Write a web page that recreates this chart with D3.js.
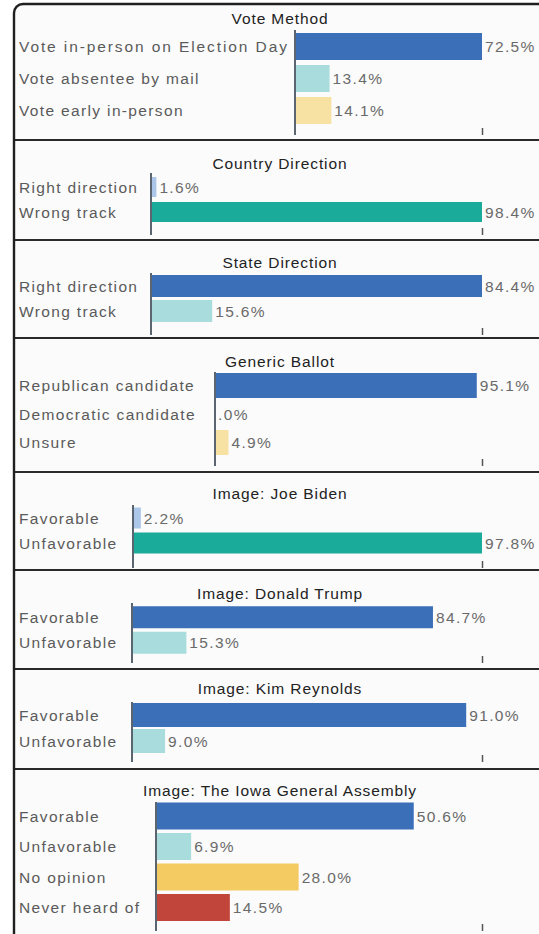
<!DOCTYPE html>
<html>
<head>
<meta charset="utf-8">
<script src="https://cdn.jsdelivr.net/npm/d3@7"></script>
<style>
  html, body { margin: 0; padding: 0; background: #ffffff; }
  svg { display: block; }
  text { font-family: "Liberation Sans", Arial, sans-serif; }
</style>
</head>
<body>
<svg id="chart" width="539" height="934"></svg>
<script>
// ---------- DATA ----------
const titles = [
  "Vote Method",
  "Country Direction",
  "State Direction",
  "Generic Ballot",
  "Image: Joe Biden",
  "Image: Donald Trump",
  "Image: Kim Reynolds",
  "Image: The Iowa General Assembly"
];
const categories = [
  ["Vote in-person on Election Day", "Vote absentee by mail", "Vote early in-person"],
  ["Right direction", "Wrong track"],
  ["Right direction", "Wrong track"],
  ["Republican candidate", "Democratic candidate", "Unsure"],
  ["Favorable", "Unfavorable"],
  ["Favorable", "Unfavorable"],
  ["Favorable", "Unfavorable"],
  ["Favorable", "Unfavorable", "No opinion", "Never heard of"]
];
const values = [
  [72.5, 13.4, 14.1],
  [1.6, 98.4],
  [84.4, 15.6],
  [95.1, 0.0, 4.9],
  [2.2, 97.8],
  [84.7, 15.3],
  [91.0, 9.0],
  [50.6, 6.9, 28.0, 14.5]
];
// upper end of each panel's value axis (where its single tick mark sits)
const axisMax = [72.5, 98.4, 84.4, 97, 97.8, 98.5, 95.3, 64];

// ---------- STYLE / LAYOUT ----------
const C = {
  blue: "#3b70b9", cyan: "#a9dcdc", paleYellow: "#f7e2a4", paleBlue: "#abc6e9",
  teal: "#1aab9a", yellow: "#f3cb62", red: "#c1453b"
};
const colors = [
  [C.blue, C.cyan, C.paleYellow],
  [C.paleBlue, C.teal],
  [C.blue, C.cyan],
  [C.blue, C.cyan, C.paleYellow],
  [C.paleBlue, C.teal],
  [C.blue, C.cyan],
  [C.blue, C.cyan],
  [C.blue, C.cyan, C.yellow, C.red]
];
// panel geometry: top/bottom borders, title y, axis x, band top, band step, bar height, axis span
const layout = [
  {top: 4,   bottom: 140, titleY: 18,  axisX: 295, bandTop: 30.5,  step: 32,   barH: 27, ay0: 30,  ay1: 135},
  {top: 140, bottom: 240, titleY: 163, axisX: 151, bandTop: 174.5, step: 25,   barH: 20, ay0: 173, ay1: 235},
  {top: 240, bottom: 338, titleY: 262, axisX: 151, bandTop: 273.5, step: 25,   barH: 22, ay0: 273, ay1: 335},
  {top: 338, bottom: 472, titleY: 361, axisX: 215, bandTop: 371.25,step: 28.5, barH: 25, ay0: 372, ay1: 466},
  {top: 472, bottom: 570, titleY: 493, axisX: 133, bandTop: 505.5, step: 25,   barH: 21, ay0: 505, ay1: 568},
  {top: 570, bottom: 669, titleY: 593, axisX: 132, bandTop: 604.5, step: 25.5, barH: 22, ay0: 603, ay1: 663},
  {top: 669, bottom: 769, titleY: 688, axisX: 132, bandTop: 702,   step: 26,   barH: 24, ay0: 702, ay1: 762},
  {top: 769, bottom: 940, titleY: 790, axisX: 156, bandTop: 800.75,step: 30.5, barH: 27, ay0: 802, ay1: 931}
];
const tickX = 482;
const leftX = 14;
const rightX = 560;
const labelX = 19;

// value label format as shown on the chart (a zero shows as ".0%")
const fmtValue = v => (v === 0 ? ".0" : v.toFixed(1)) + "%";

const svg = d3.select("#chart");

// panel backgrounds
svg.append("rect")
  .attr("x", leftX).attr("y", 4).attr("width", rightX - leftX).attr("height", 940)
  .attr("rx", 9).attr("ry", 9)
  .attr("fill", "#fbfbfb").attr("stroke", "none");

titles.forEach((title, i) => {
  const L = layout[i];
  const g = svg.append("g");
  const n = categories[i].length;

  const x = d3.scaleLinear().domain([0, axisMax[i]]).range([L.axisX, tickX]);
  const pad = (L.step - L.barH) / L.step;
  const y = d3.scaleBand()
    .domain(categories[i])
    .range([L.bandTop, L.bandTop + n * L.step])
    .paddingInner(pad).paddingOuter(pad / 2);

  // title
  g.append("text")
    .attr("x", 280).attr("y", L.titleY).attr("dy", "0.36em")
    .attr("text-anchor", "middle")
    .attr("font-size", 15.5).attr("letter-spacing", "0.9px")
    .attr("fill", "#222")
    .text(title);

  // category labels
  g.selectAll("text.cat").data(categories[i]).join("text")
    .attr("class", "cat")
    .attr("x", labelX)
    .attr("y", d => y(d) + y.bandwidth() / 2).attr("dy", "0.36em")
    .attr("font-size", 15.5)
    .attr("letter-spacing", d => d.length > 25 ? "1.9px" : "1.35px")
    .attr("fill", "#5a5a5a")
    .text(d => d);

  const rows = categories[i].map((c, j) => ({c, v: values[i][j], col: colors[i][j]}));

  // bars
  g.selectAll("rect.bar").data(rows).join("rect")
    .attr("class", "bar")
    .attr("x", x(0))
    .attr("y", d => y(d.c))
    .attr("width", d => Math.max(0, x(d.v) - x(0)))
    .attr("height", y.bandwidth())
    .attr("fill", d => d.col);

  // value labels
  g.selectAll("text.val").data(rows).join("text")
    .attr("class", "val")
    .attr("x", d => x(d.v) + 3)
    .attr("y", d => y(d.c) + y.bandwidth() / 2).attr("dy", "0.36em")
    .attr("font-size", 15.5).attr("letter-spacing", "1.35px")
    .attr("fill", "#6a6a6a")
    .text(d => fmtValue(d.v));

  // axis: a single tick at the top of the scale, drawn with d3.axisBottom
  const axisG = g.append("g")
    .attr("transform", `translate(0,${L.ay1 - 7})`)
    .call(d3.axisBottom(x).tickValues([axisMax[i]]).tickSize(7).tickFormat(""));
  axisG.select(".domain").remove();
  axisG.selectAll(".tick line").attr("stroke", "#555").attr("stroke-width", 1.5);

  // vertical baseline
  g.append("line")
    .attr("x1", x(0)).attr("x2", x(0))
    .attr("y1", L.ay0).attr("y2", L.ay1)
    .attr("stroke", "#5b6570").attr("stroke-width", 2);

  // separator below panel
  if (i < titles.length - 1) {
    svg.append("line")
      .attr("x1", leftX).attr("x2", rightX)
      .attr("y1", L.bottom).attr("y2", L.bottom)
      .attr("stroke", "#2a2a2a").attr("stroke-width", 2.2);
  }
});

// outer frame (rounded top-left, open to the right/bottom)
svg.append("rect")
  .attr("x", leftX).attr("y", 4).attr("width", rightX - leftX).attr("height", 960)
  .attr("rx", 9).attr("ry", 9)
  .attr("fill", "none").attr("stroke", "#1f1f1f").attr("stroke-width", 2.4);
</script>
</body>
</html>
